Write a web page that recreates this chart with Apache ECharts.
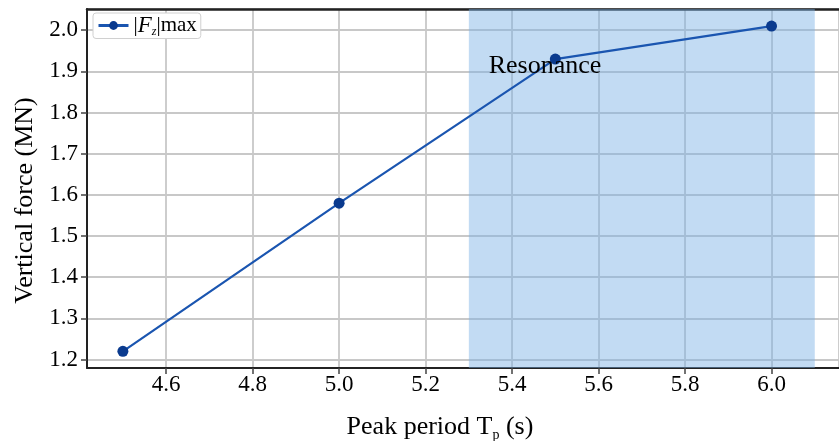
<!DOCTYPE html>
<html><head><meta charset="utf-8">
<script src="https://cdn.jsdelivr.net/npm/echarts@6/dist/echarts.min.js"></script>
<style>html,body{margin:0;padding:0;background:#fff}#c{width:839px;height:441px}</style>
</head><body><div id="c"></div>
<script>
const periods = [4.5, 5.0, 5.5, 6.0];
const fzMax = [1.22, 1.58, 1.93, 2.01];
const resonanceRange = [5.3, 6.1];
const resonanceLabel = {x: 5.476, y: 1.912, text: 'Resonance'};
const xRange = [4.417, 6.156];
const yRange = [1.1795, 2.0516];

const font = 'Liberation Serif';
const isMult = (v, step) => Math.abs(v / step - Math.round(v / step)) < 1e-6;
const chart = echarts.init(document.getElementById('c'));
chart.setOption({
  animation: false,
  grid: {left: 87, right: 0, top: 9, bottom: 73, containLabel: false, outerBoundsMode: 'none'},
  legend: {
    data: ['Fz'],
    left: 93, top: 13, itemWidth: 30, itemHeight: 11, itemGap: 3,
    padding: [1, 4, 1, 4],
    backgroundColor: '#fff', borderColor: '#d0d0d0', borderWidth: 1, borderRadius: 3,
    lineStyle: {width: 3},
    formatter: () => '{n||}{i|F}{s|z}{n||max}',
    textStyle: {
      fontFamily: font, fontSize: 21, color: '#000',
      rich: {
        i: {fontFamily: font, fontSize: 23, fontStyle: 'italic', color: '#000'},
        s: {fontFamily: font, fontSize: 12, fontStyle: 'italic', color: '#000', verticalAlign: 'bottom', padding: [12, 0, 0, 0]},
        n: {fontFamily: font, fontSize: 21, color: '#000'}
      }
    }
  },
  xAxis: [{
    type: 'value', min: xRange[0], max: xRange[1], minInterval: 0.2, maxInterval: 0.2, splitNumber: 8,
    name: '{a|Peak period T}{s|p}{a| (s)}', nameLocation: 'middle', nameGap: 44,
    nameTextStyle: {padding: [0, 46, 0, 0], rich: {
      a: {fontFamily: font, fontSize: 26, color: '#000'},
      s: {fontFamily: font, fontSize: 14, color: '#000', verticalAlign: 'bottom', padding: [16, 0, 0, 0]}
    }},
    axisLine: {show: true, onZero: false, lineStyle: {color: '#222', width: 2}},
    axisTick: {show: true, length: 6, lineStyle: {color: '#444', width: 1.5}},
    axisLabel: {fontFamily: font, fontSize: 23, color: '#000', margin: 5, showMinLabel: false, showMaxLabel: false,
      formatter: v => isMult(v, 0.2) ? v.toFixed(1) : ''},
    splitLine: {show: true, lineStyle: {color: '#c8c8c8', width: 1.8}}
  }, {
    type: 'value', position: 'top', min: xRange[0], max: xRange[1],
    axisLine: {show: true, onZero: false, lineStyle: {color: '#222', width: 2.5}},
    axisTick: {show: false}, axisLabel: {show: false}, splitLine: {show: false}
  }],
  yAxis: {
    type: 'value', min: yRange[0], max: yRange[1], minInterval: 0.1, maxInterval: 0.1, splitNumber: 8,
    name: 'Vertical force (MN)', nameLocation: 'middle', nameGap: 49,
    nameTextStyle: {fontFamily: font, fontSize: 26, color: '#000', padding: [0, 24, 0, 0]},
    axisLine: {show: true, onZero: false, lineStyle: {color: '#222', width: 2}},
    axisTick: {show: true, length: 6, lineStyle: {color: '#444', width: 1.5}},
    axisLabel: {fontFamily: font, fontSize: 23, color: '#000', margin: 9, showMinLabel: false, showMaxLabel: false,
      formatter: v => isMult(v, 0.1) ? v.toFixed(1) : ''},
    splitLine: {show: true, lineStyle: {color: '#c8c8c8', width: 1.8}}
  },
  series: [{
    name: 'Fz', type: 'line',
    data: periods.map((p, i) => [p, fzMax[i]]),
    symbol: 'circle', symbolSize: 11,
    lineStyle: {color: '#1a55b0', width: 2.2},
    itemStyle: {color: '#0a3a8e'},
    z: 5,
    markArea: {
      silent: true,
      itemStyle: {color: 'rgba(120,176,228,0.45)'},
      data: [[{xAxis: resonanceRange[0]}, {xAxis: resonanceRange[1]}]]
    }
  }, {
    name: 'label', type: 'scatter', silent: true, z: 6,
    symbolSize: 1, itemStyle: {color: 'rgba(0,0,0,0)'},
    label: {show: true, position: 'inside', formatter: resonanceLabel.text, fontFamily: font, fontSize: 26, color: '#000', opacity: 1},
    data: [[resonanceLabel.x, resonanceLabel.y]]
  }]
});
</script></body></html>
